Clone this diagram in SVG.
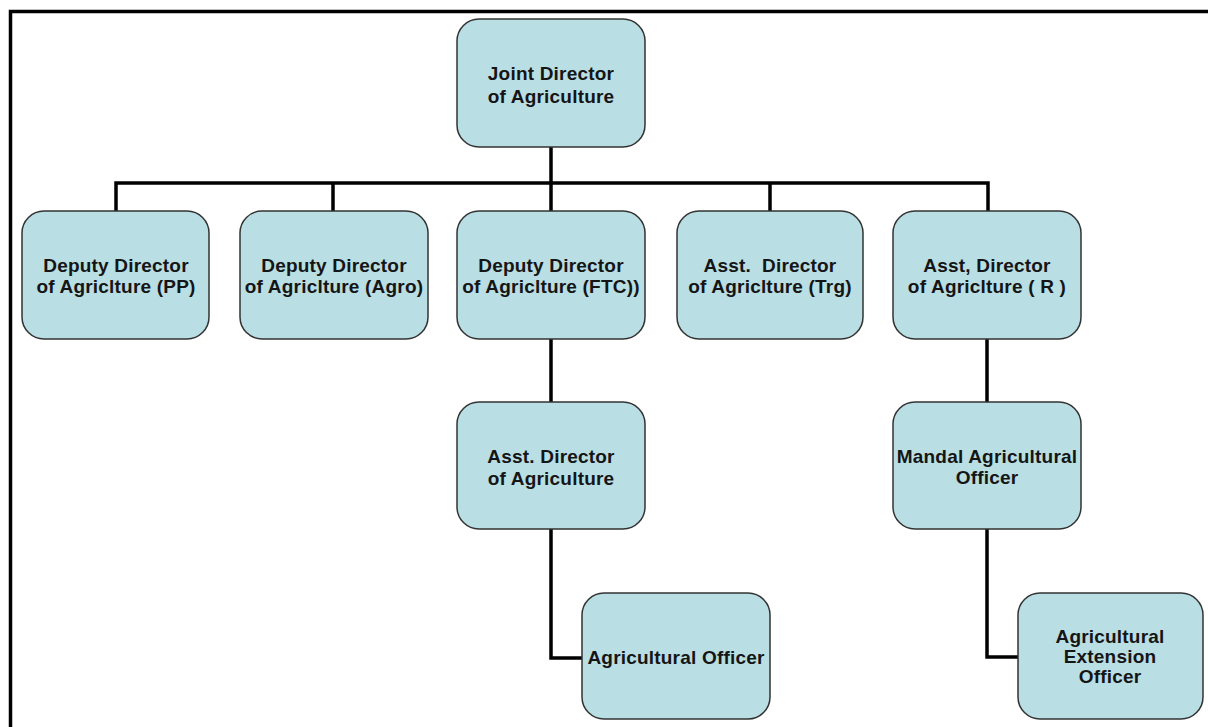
<svg xmlns="http://www.w3.org/2000/svg" width="1208" height="727" viewBox="0 0 1208 727">
<style>
.box{fill:#b9dee3;stroke:#333;stroke-width:1.5}
.t{font-family:"Liberation Sans",Arial,sans-serif;font-weight:bold;font-size:19px;letter-spacing:0.2px;fill:#151515;text-anchor:middle}
.c{fill:none;stroke:#000;stroke-width:3.5}
</style>
<rect x="0" y="0" width="1208" height="727" fill="#fff"/>
<path d="M10.5 727 V11.5 H1208" fill="none" stroke="#000" stroke-width="3.5"/>
<g id="connectors">
<path class="c" d="M551 147 V183"/>
<path class="c" d="M116 211 V183 H988 V211"/>
<path class="c" d="M333 183 V211"/>
<path class="c" d="M551 183 V211"/>
<path class="c" d="M770 183 V211"/>
<path class="c" d="M551 339 V402"/>
<path class="c" d="M551 529 V658 H582"/>
<path class="c" d="M987 339 V402"/>
<path class="c" d="M987 529 V657 H1018"/>
</g>
<g id="jda"><rect class="box" x="457" y="19" width="188" height="128" rx="22"/><text class="t" x="551" y="80">Joint Director</text><text class="t" x="551" y="103">of Agriculture</text></g>
<g id="dda-pp"><rect class="box" x="22" y="211" width="187" height="128" rx="22"/><text class="t" x="116" y="272">Deputy Director</text><text class="t" x="116" y="293">of Agriclture (PP)</text></g>
<g id="dda-agro"><rect class="box" x="240" y="211" width="188" height="128" rx="22"/><text class="t" x="334" y="272">Deputy Director</text><text class="t" x="334" y="293">of Agriclture (Agro)</text></g>
<g id="dda-ftc"><rect class="box" x="457" y="211" width="188" height="128" rx="22"/><text class="t" x="551" y="272">Deputy Director</text><text class="t" x="551" y="293">of Agriclture (FTC))</text></g>
<g id="ada-trg"><rect class="box" x="677" y="211" width="186" height="128" rx="22"/><text class="t" x="770" y="272" xml:space="preserve">Asst.  Director</text><text class="t" x="770" y="293">of Agriclture (Trg)</text></g>
<g id="ada-r"><rect class="box" x="893" y="211" width="188" height="128" rx="22"/><text class="t" x="987" y="272">Asst, Director</text><text class="t" x="987" y="293">of Agriclture ( R )</text></g>
<g id="ada"><rect class="box" x="457" y="402" width="188" height="127" rx="22"/><text class="t" x="551" y="463">Asst. Director</text><text class="t" x="551" y="485">of Agriculture</text></g>
<g id="mao"><rect class="box" x="893" y="402" width="188" height="127" rx="22"/><text class="t" x="987" y="463">Mandal Agricultural</text><text class="t" x="987" y="484">Officer</text></g>
<g id="ao"><rect class="box" x="582" y="593" width="188" height="126" rx="22"/><text class="t" x="676" y="664">Agricultural Officer</text></g>
<g id="aeo"><rect class="box" x="1018" y="593" width="185" height="126" rx="22"/><text class="t" x="1110" y="643">Agricultural</text><text class="t" x="1110" y="663">Extension</text><text class="t" x="1110" y="683">Officer</text></g>
</svg>
